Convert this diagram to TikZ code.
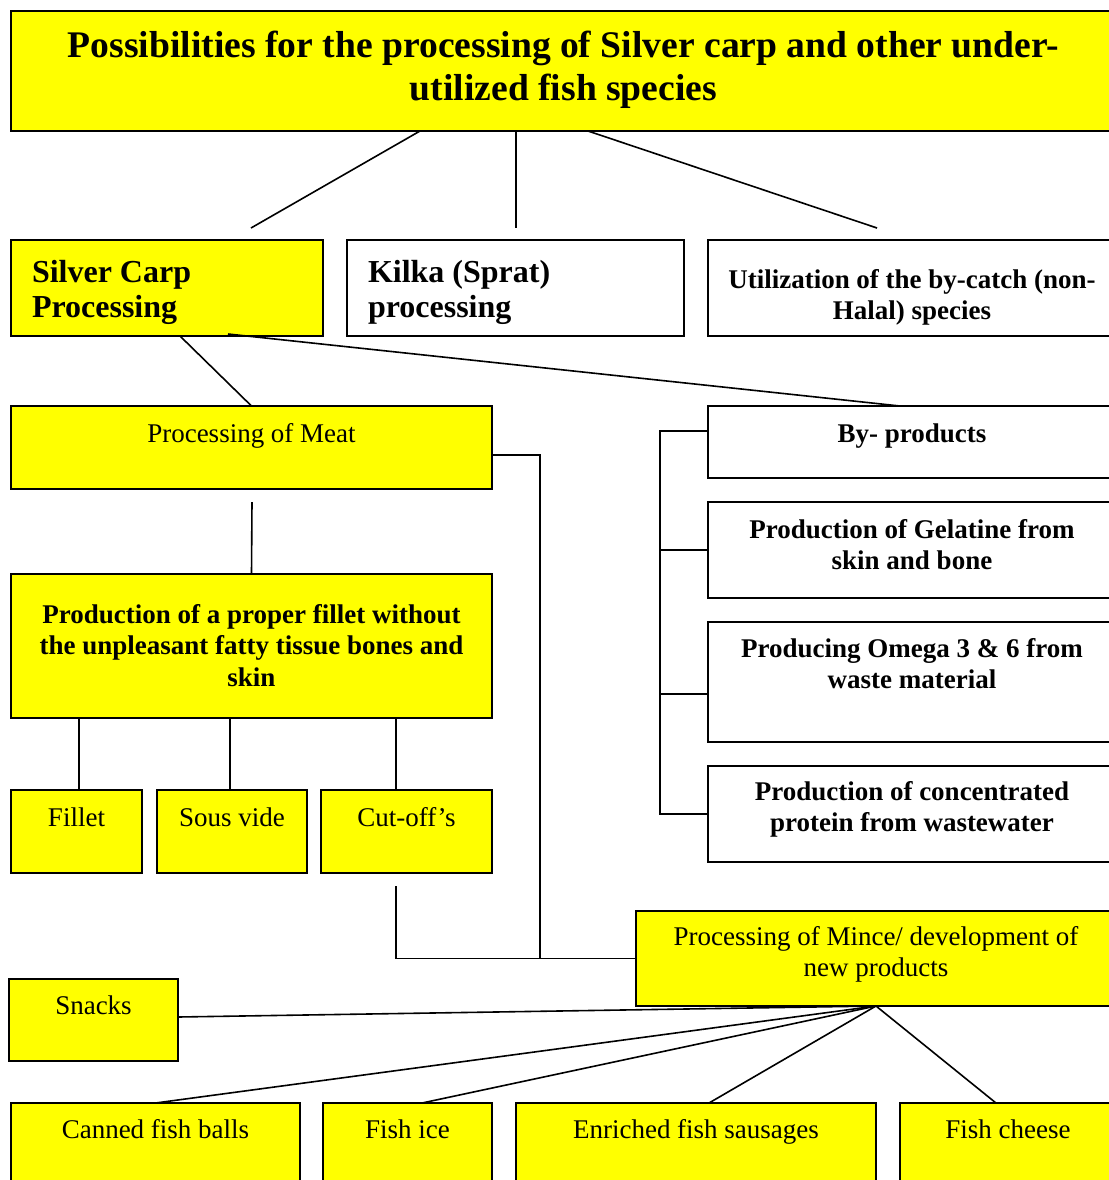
\documentclass[tikz,border=0pt]{standalone}
\usepackage{fontspec}
\setmainfont{Liberation Serif}
\usepackage{tikz}
\usetikzlibrary{positioning,calc}
\definecolor{boxyellow}{RGB}{255,255,0}
\newlength{\px}
\setlength{\px}{0.5pt}
\newcommand{\titlefont}{\fontsize{18.8}{21.5}\selectfont\bfseries}
\newcommand{\bigfont}{\fontsize{16}{17.5}\selectfont\bfseries}
\newcommand{\txtfont}{\fontsize{13.5}{15.75}\selectfont}
% box text: [align]{width}{height}{first baseline}{text}
\newcommand{\boxtxt}[5][\centering]{\parbox[c][#3][t]{#2}{#1\rule{0pt}{#4}#5}}

\begin{document}
\begin{tikzpicture}[x=1\px, y=-1\px,
	ybox/.style={draw, line width=1pt, fill=boxyellow, inner sep=0pt, outer sep=0pt, anchor=north west},
	wbox/.style={draw, line width=1pt, fill=white, inner sep=0pt, outer sep=0pt, anchor=north west},
	link/.style={draw, line width=0.8pt}]
	\useasboundingbox (0,0) rectangle (1109,1180);
	
	% Title
	\node[ybox] (title) at (11,11) {\boxtxt{1105\px}{120\px}{46\px}{\titlefont Possibilities for the processing of Silver carp and other under-\\utilized fish species}};
	
	% Second level
	\node[ybox] (silver) at (11,240) {\boxtxt[\raggedright\leftskip=21\px]{312\px}{96\px}{42\px}{\bigfont Silver Carp\\Processing}};
	\node[wbox] (kilka) at (347,240) {\boxtxt[\raggedright\leftskip=21\px]{337\px}{96\px}{42\px}{\bigfont Kilka (Sprat)\\processing}};
	\node[wbox] (bycatch) at (708,240) {\boxtxt{408\px}{96\px}{48\px}{\txtfont\bfseries Utilization of the by-catch (non-\\Halal) species}};
	
	% Meat branch
	\node[ybox] (meat) at (11,406) {\boxtxt{481\px}{83\px}{36\px}{\txtfont Processing of Meat}};
	\node[ybox] (fprod) at (11,574) {\boxtxt{481\px}{144\px}{49\px}{\txtfont\bfseries Production of a proper fillet without\\the unpleasant fatty tissue bones and\\skin}};
	\node[ybox] (fillet) at (11,790) {\boxtxt{131\px}{83\px}{36\px}{\txtfont Fillet}};
	\node[ybox] (sousvide) at (157,790) {\boxtxt{150\px}{83\px}{36\px}{\txtfont Sous vide}};
	\node[ybox] (cutoff) at (321,790) {\boxtxt{171\px}{83\px}{36\px}{\txtfont Cut-off's}};
	
	% By-products
	\node[wbox] (byprod) at (708,406) {\boxtxt{408\px}{72\px}{36\px}{\txtfont\bfseries By- products}};
	\node[wbox] (gelatine) at (708,502) {\boxtxt{408\px}{96\px}{36\px}{\txtfont\bfseries Production of Gelatine from\\skin and bone}};
	\node[wbox] (omega) at (708,622) {\boxtxt{408\px}{120\px}{35\px}{\txtfont\bfseries Producing Omega 3 \& 6 from\\waste material}};
	\node[wbox] (protein) at (708,766) {\boxtxt{408\px}{96\px}{34\px}{\txtfont\bfseries Production of concentrated\\protein from wastewater}};
	
	% Mince and new products
	\node[ybox] (mince) at (636,911) {\boxtxt{480\px}{95\px}{34\px}{\txtfont Processing of Mince/ development of\\new products}};
	\node[ybox] (snacks) at (9,979) {\boxtxt{169\px}{82\px}{35\px}{\txtfont Snacks}};
	\node[ybox] (canned) at (11,1103) {\boxtxt{289\px}{90\px}{35\px}{\txtfont Canned fish balls}};
	\node[ybox] (fishice) at (323,1103) {\boxtxt{169\px}{90\px}{35\px}{\txtfont Fish ice}};
	\node[ybox] (sausage) at (516,1103) {\boxtxt{360\px}{90\px}{35\px}{\txtfont Enriched fish sausages}};
	\node[ybox] (cheese) at (900,1103) {\boxtxt{216\px}{90\px}{35\px}{\txtfont Fish cheese}};
	
	% Connections from the title
	\coordinate (t1) at (251,228);
	\coordinate (t2) at (516,228);
	\coordinate (t3) at (877,228);
	\draw[link] ($(title.south west)+(409,0)$) -- (t1);
	\draw[link] ($(title.south west)+(505,0)$) -- (t2);
	\draw[link] ($(title.south west)+(577,0)$) -- (t3);
	
	% Silver carp
	\draw[link] ($(silver.south west)+(169,0)$) -- (meat.north);
	\draw[link] ($(silver.south west)+(217,-2)$) -- ($(byprod.north west)+(192,0)$);
	
	% Meat
	\coordinate (m1) at (252,502);
	\draw[link] (m1) -- (fprod.north);
	\draw[link] ($(meat.north east)+(0,49)$) -- ++(48,0) |- (mince.west);
	\draw[link] ($(fprod.south west)+(68,0)$) -- ($(fillet.north west)+(68,0)$);
	\draw[link] ($(fprod.south west)+(219,0)$) -- ($(sousvide.north west)+(73,0)$);
	\draw[link] ($(fprod.south west)+(385,0)$) -- ($(cutoff.north west)+(75,0)$);
	\coordinate (c1) at (396,886);
	\draw[link] (c1) |- (mince.west);
	
	% By-products bracket
	\coordinate (bus) at (660,431);
	\draw[link] ($(byprod.north west)+(0,25)$) -- (bus) -- (bus |- protein.west) -- (protein.west);
	\draw[link] (gelatine.west) -- (bus |- gelatine.west);
	\draw[link] ($(omega.north west)+(0,72)$) -- ++(-48,0);
	
	% New products
	\draw[link] (mince.south) -- ($(snacks.north east)+(0,38)$);
	\draw[link] (mince.south) -- (canned.north);
	\draw[link] (mince.south) -- ($(fishice.north west)+(99,0)$);
	\draw[link] (mince.south) -- ($(sausage.north west)+(193,0)$);
	\draw[link] (mince.south) -- ($(cheese.north west)+(96,0)$);
\end{tikzpicture}
\end{document}
